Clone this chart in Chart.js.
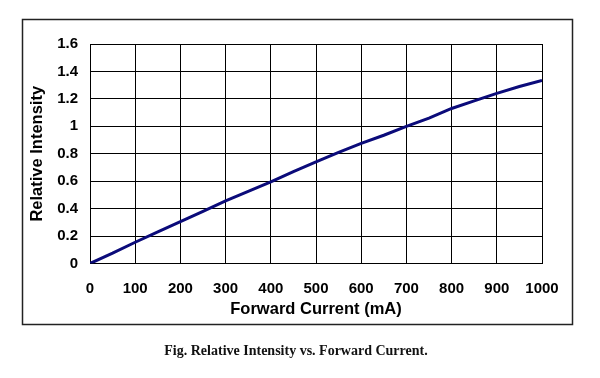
<!DOCTYPE html>
<html>
<head>
<meta charset="utf-8">
<script src="https://cdn.jsdelivr.net/npm/chart.js@4"></script>
<style>
    html, body { margin: 0; padding: 0; background: #fff; }
    #wrap { position: relative; width: 600px; height: 378px; }
    #caption {
        position: absolute; left: 0; width: 592px; top: 343px;
        text-align: center; font-family: "Liberation Serif", serif;
        font-weight: bold; font-size: 14px; color: #111;
    }
</style>
</head>
<body>
<div id="wrap">
    <canvas id="grafico" width="600" height="378"></canvas>
    <div id="caption">Fig. Relative Intensity vs. Forward Current.</div>
</div>
<script>
// corriente directa (mA) e intensidad relativa
const corriente = [0, 50, 100, 150, 200, 250, 300, 350, 400, 450, 500, 550, 600, 650, 700, 750, 800, 850, 900, 950, 1000];
const intensidad = [0, 0.075, 0.155, 0.23, 0.305, 0.38, 0.457, 0.525, 0.595, 0.67, 0.74, 0.81, 0.875, 0.935, 1.0, 1.06, 1.13, 1.185, 1.24, 1.29, 1.335];
const ticksX = [0, 100, 200, 300, 400, 500, 600, 700, 800, 900, 1000];
const ticksY = [0, 0.2, 0.4, 0.6, 0.8, 1, 1.2, 1.4, 1.6];

const puntos = corriente.map(function(c, i){ return {x: c, y: intensidad[i]}; });

// marco exterior alrededor del grafico
const marco = {
    id: 'marco',
    afterDraw: function(chart){
        const ctx = chart.ctx;
        ctx.save();
        ctx.strokeStyle = '#222';
        ctx.lineWidth = 1.5;
        ctx.strokeRect(22.5, 19.5, 550, 305);
        ctx.restore();
    }
};

const fuente = '"Liberation Sans", Arial, sans-serif';

new Chart(document.getElementById('grafico'), {
    type: 'line',
    plugins: [marco],
    data: {
        datasets: [{
            data: puntos,
            borderColor: '#0b0b7a',
            borderWidth: 3,
            pointRadius: 0,
            tension: 0
        }]
    },
    options: {
        responsive: false,
        animation: false,
        layout: { padding: { left: 22, right: 58, top: 44, bottom: 54.5 } },
        plugins: { legend: { display: false }, tooltip: { enabled: false } },
        scales: {
            x: {
                type: 'linear', min: 0, max: 1000,
                afterFit: function(s){ s.height = 60; },
                afterBuildTicks: function(s){ s.ticks = ticksX.map(function(v){ return {value: v}; }); },
                grid: { color: '#000', lineWidth: 1, drawTicks: false },
                border: { color: '#000', width: 1 },
                ticks: { padding: 16, color: '#000', font: { family: fuente, size: 15, weight: 'bold' },
                         callback: function(v){ return String(v); } },
                title: { display: true, text: 'Forward Current (mA)', color: '#000',
                         padding: { top: 0, bottom: 4 }, font: { family: fuente, size: 16.5, weight: 'bold' } }
            },
            y: {
                min: 0, max: 1.6,
                afterFit: function(s){ s.width = 68; },
                afterBuildTicks: function(s){ s.ticks = ticksY.map(function(v){ return {value: v}; }); },
                grid: { color: '#000', lineWidth: 1, drawTicks: false },
                border: { color: '#000', width: 1 },
                ticks: { padding: 12, color: '#000', font: { family: fuente, size: 15, weight: 'bold' },
                         callback: function(v){ return String(Math.round(v * 10) / 10); } },
                title: { display: true, text: 'Relative Intensity', color: '#000',
                         padding: { top: 6, bottom: 0 }, font: { family: fuente, size: 16.5, weight: 'bold' } }
            }
        }
    }
});
</script>
</body>
</html>
